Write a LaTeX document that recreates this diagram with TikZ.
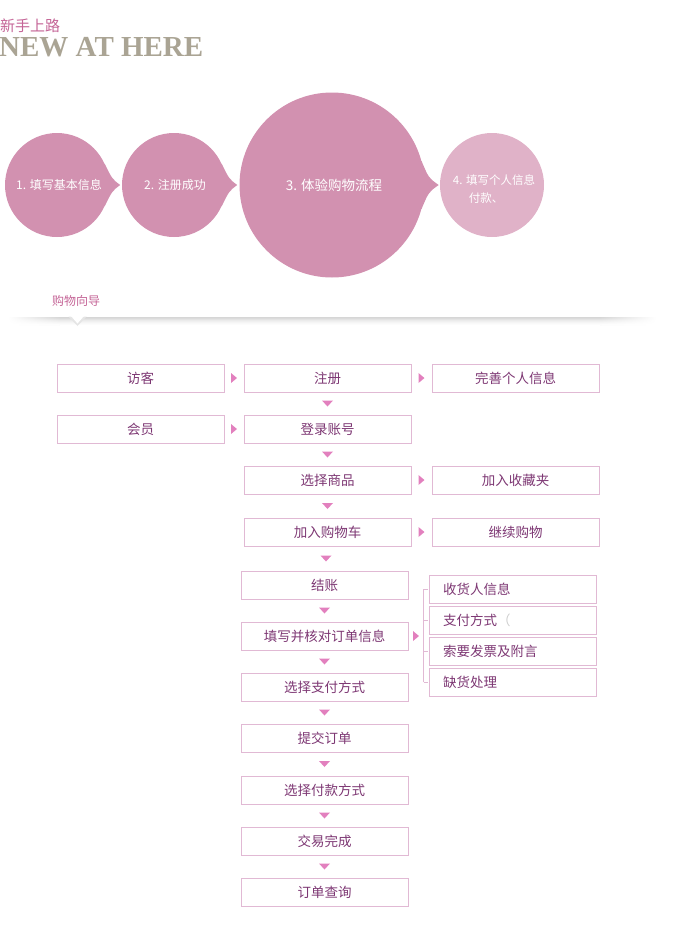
\documentclass[tikz,border=0pt]{standalone}
\usepackage{fontspec}
\setmainfont{Liberation Serif}
\newfontfamily\cjk{Noto Sans CJK SC}
\usetikzlibrary{calc}
\definecolor{circA}{RGB}{210,145,176}
\definecolor{circB}{RGB}{224,178,200}
\definecolor{boxline}{RGB}{225,185,212}
\definecolor{boxtext}{RGB}{125,55,115}
\definecolor{arrowc}{RGB}{226,128,190}
\definecolor{titlepink}{RGB}{196,100,150}
\definecolor{titlegrey}{RGB}{170,164,148}
\newcommand\myrarr[2]{\fill[arrowc] ($(#1)!.5!(#2)$) ++(-3,-5) -- ++(6,5) -- ++(-6,5) -- cycle;}
\newcommand\mydarr[2]{\fill[arrowc] ($(#1)!.5!(#2)$) ++(-5.5,-3) -- ++(11,0) -- ++(-5.5,6) -- cycle;}
\tikzset{
  flowbox/.style={draw=boxline, line width=0.9pt, minimum width=167pt, minimum height=28pt,
    inner sep=0pt, font=\cjk\fontsize{13.5}{16}\selectfont, text=boxtext},
  subbox/.style={flowbox, inner xsep=14pt, text width=139pt, align=left},
  bracketline/.style={draw=boxline, line width=0.9pt},
  bigcirc/.style={circle, fill=circA, inner sep=0pt, text=white},
  circtext/.style={text=white, font=\cjk\fontsize{12}{18}\selectfont, inner sep=0pt},
}
\begin{document}
\begin{tikzpicture}[x=1pt,y=-1pt]
\useasboundingbox (0,0) rectangle (673,926);
% title
\node[anchor=base west, inner sep=0pt, text=titlepink, font=\cjk\fontsize{15}{18}\selectfont] (t1) at (0,31) {新手上路};
\node[anchor=base west, inner sep=0pt, text=titlegrey, font=\bfseries\fontsize{29}{32}\selectfont] (t2) at (-1,56) {NEW AT HERE};

% circles
\node[bigcirc, minimum size=104pt] (c1) at (57,185) {};
\fill[circA] (c1.24) .. controls ($(c1.east)+(3,-6)$) .. ($(c1.east)+(11,0)$) .. controls ($(c1.east)+(3,6)$) .. (c1.-24) -- (c1.center) -- cycle;
\node[circtext] (c1t) at (59,185) {1. 填写基本信息};
\node[bigcirc, minimum size=104pt] (c2) at (174,185) {};
\fill[circA] (c2.24) .. controls ($(c2.east)+(3,-6)$) .. ($(c2.east)+(11,0)$) .. controls ($(c2.east)+(3,6)$) .. (c2.-24) -- (c2.center) -- cycle;
\node[circtext] (c2t) at (175,185) {2. 注册成功};
\node[bigcirc, minimum size=185pt] (c3) at (332,185) {};
\fill[circA] (c3.15) .. controls ($(c3.east)+(4,-7)$) .. ($(c3.east)+(14,0)$) .. controls ($(c3.east)+(4,7)$) .. (c3.-15) -- (c3.center) -- cycle;
\node[circtext, font=\cjk\fontsize{13.5}{18}\selectfont] (c3t) at (334,185) {3. 体验购物流程};
\node[bigcirc, fill=circB, minimum size=104pt] (c4) at (492,185) {};
\node[circtext, align=left, font=\cjk\fontsize{11.5}{18}\selectfont] (c4t) at (494,189) {4. 填写个人信息\\\hspace*{16pt}付款、};

% guide band
\node[inner sep=0pt, text=titlepink, font=\cjk\fontsize{12}{14}\selectfont] (guide) at (76,301) {购物向导};
\foreach \i/\k in {0/16,1/14,2/11,3/8,4/6,5/4,6/2.5,7/1}{
  \shade[left color=white, right color=black!\k, draw=none] (8,317+\i) rectangle (60,318.2+\i);
  \fill[black!\k] (60,317+\i) rectangle (600,318.2+\i);
  \shade[left color=black!\k, right color=white, draw=none] (600,317+\i) rectangle (656,318.2+\i);
}
\fill[black!10] (68.5,316.5) -- (86.5,316.5) -- (77.5,326) -- cycle;
\fill[white] (71,316) -- (84,316) -- (77.5,323.5) -- cycle;

% flow boxes
\node[flowbox] (visitor) at (140.5,378) {访客};
\node[flowbox] (member)  at (140.5,429) {会员};
\node[flowbox] (reg)     at (327.5,378) {注册};
\node[flowbox] (login)   at (327.5,429) {登录账号};
\node[flowbox] (choose)  at (327.5,480) {选择商品};
\node[flowbox] (cart)    at (327.5,532) {加入购物车};
\node[flowbox] (perfect) at (515.5,378) {完善个人信息};
\node[flowbox] (fav)     at (515.5,480) {加入收藏夹};
\node[flowbox] (cont)    at (515.5,532) {继续购物};
\node[flowbox] (checkout) at (324.5,585) {结账};
\node[flowbox] (fill)    at (324.5,636) {填写并核对订单信息};
\node[flowbox] (paysel)  at (324.5,687) {选择支付方式};
\node[flowbox] (submit)  at (324.5,738) {提交订单};
\node[flowbox] (payway)  at (324.5,790) {选择付款方式};
\node[flowbox] (done)    at (324.5,841) {交易完成};
\node[flowbox] (query)   at (324.5,892) {订单查询};
\node[subbox] (sub1) at (512.5,589) {收货人信息};
\node[subbox] (sub2) at (512.5,620) {支付方式\textcolor{black!20}{（}};
\node[subbox] (sub3) at (512.5,651) {索要发票及附言};
\node[subbox] (sub4) at (512.5,682) {缺货处理};

% bracket
\coordinate (bx) at ($(sub1.west)+(-5,0)$);
\draw[bracketline] (bx) -- (bx |- sub4.west);
\foreach \s in {sub1,sub2,sub3,sub4} \draw[bracketline] (bx |- \s.west) -- ++(4,0);
\coordinate (fillr) at (bx |- fill.east);

% arrows
\myrarr{visitor.east}{reg.west}
\myrarr{reg.east}{perfect.west}
\myrarr{member.east}{login.west}
\myrarr{choose.east}{fav.west}
\myrarr{cart.east}{cont.west}
\myrarr{fill.east}{fillr}
\mydarr{reg.south}{login.north}
\mydarr{login.south}{choose.north}
\mydarr{choose.south}{cart.north}
\mydarr{cart.south}{checkout.north}
\mydarr{checkout.south}{fill.north}
\mydarr{fill.south}{paysel.north}
\mydarr{paysel.south}{submit.north}
\mydarr{submit.south}{payway.north}
\mydarr{payway.south}{done.north}
\mydarr{done.south}{query.north}
\end{tikzpicture}
\end{document}
